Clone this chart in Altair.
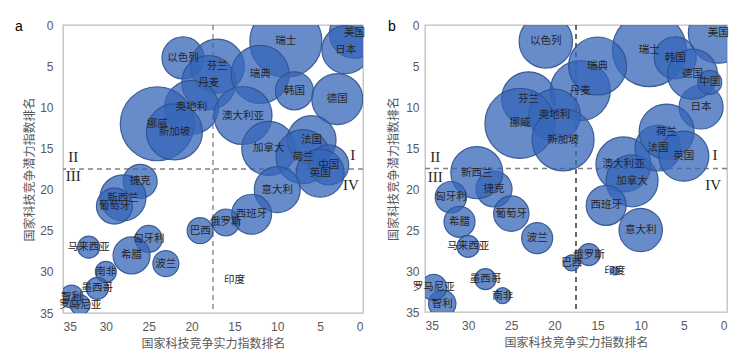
import altair as alt
import pandas as pd

countries = ["瑞士", "美国", "日本", "以色列", "芬兰", "丹麦", "瑞典", "韩国", "德国", "奥地利",
             "澳大利亚", "挪威", "新加坡", "加拿大", "法国", "荷兰", "中国", "英国", "意大利", "西班牙",
             "俄罗斯", "巴西", "印度", "捷克", "新西兰", "葡萄牙", "匈牙利", "希腊", "波兰", "马来西亚",
             "南非", "墨西哥", "智利", "罗马尼亚"]

# panel a
a_strength = [9, 1, 2, 21, 17, 18, 12, 8, 3, 20, 14, 24, 22, 11, 6, 7, 4, 5, 10, 13,
              16, 19, 15, 26, 28, 29, 25, 27, 23, 32, 30, 31, 34, 33]
a_potential = [2, 1, 3, 4, 5, 7, 6, 8, 9, 10, 11, 12, 13, 15, 14, 16, 17, 18, 20, 23,
               24, 25, 31, 19, 21, 22, 26, 28, 29, 27, 30, 32, 33, 34]
a_bubble = [1296, 625, 576, 441, 729, 729, 841, 361, 650, 729, 841, 1369, 784, 729, 600, 729, 400, 576, 529, 400,
            182, 169, 0, 289, 529, 324, 182, 342, 169, 121, 110, 121, 132, 100]

# panel b
b_strength = [9, 1, 3, 21, 23, 17, 15, 6, 4, 20, 12, 24, 19, 11, 8, 7, 2, 5, 10, 14,
              16, 18, 13, 27, 29, 25, 32, 31, 22, 30, 26, 28, 33, 34]
b_potential = [3, 1, 10, 2, 9, 8, 5, 4, 6, 11, 17, 12, 14, 19, 15, 13, 7, 16, 25, 22,
               28, 29, 30, 20, 18, 23, 21, 24, 26, 27, 33, 31, 34, 32]
b_bubble = [1369, 900, 484, 713, 729, 900, 841, 441, 625, 676, 756, 1225, 961, 676, 529, 756, 144, 625, 471, 400,
            121, 64, 16, 324, 676, 313, 246, 240, 240, 121, 64, 110, 188, 169]

quadrants = ["I", "II", "III", "IV"]
a_quad_x = [1.2, 33.8, 33.8, 1.4]
a_quad_y = [15.8, 16.0, 18.3, 19.5]
b_quad_x = [1.4, 33.8, 33.8, 1.6]
b_quad_y = [15.9, 16.1, 18.5, 19.5]

divider = 17.5

X_TITLE = "国家科技竞争实力指数排名"
Y_TITLE = "国家科技竞争潜力指数排名"
CJK = "Noto Sans CJK SC"
GREY = "#595959"


def xenc(field="实力"):
    return alt.X(f"{field}:Q",
                 scale=alt.Scale(domain=[0, 35], reverse=True, nice=False),
                 axis=alt.Axis(values=list(range(0, 36, 5)), grid=False, ticks=False, domain=False,
                               title=X_TITLE, titleFont=CJK, titleFontSize=12, titleFontWeight="normal",
                               titleColor=GREY, titlePadding=6, labelFont="Liberation Sans",
                               labelFontSize=12, labelColor=GREY, labelPadding=8))


def yenc(lpad, tpad, field="潜力"):
    return alt.Y(f"{field}:Q",
                 scale=alt.Scale(domain=[0, 35], reverse=True, nice=False),
                 axis=alt.Axis(values=list(range(0, 36, 5)), grid=False, ticks=False, domain=False,
                               title=Y_TITLE, titleFont=CJK, titleFontSize=12, titleFontWeight="normal",
                               titleColor=GREY, titlePadding=tpad, labelFont="Liberation Sans",
                               labelFontSize=12, labelColor=GREY, labelPadding=lpad))


def panel(xs, ys, ss, qx, qy, letter, letter_dx, vcolor, lpad, tpad, w, h):
    df = pd.DataFrame({"国家": countries, "实力": xs, "潜力": ys, "规模": ss})
    qdf = pd.DataFrame({"标签": quadrants, "实力": qx, "潜力": qy})
    vdf = pd.DataFrame({"实力": [divider]})
    hdf = pd.DataFrame({"潜力": [divider]})
    ldf = pd.DataFrame({"t": [letter]})
    ye = yenc(lpad, tpad)

    bubbles = alt.Chart(df).mark_circle(
        clip=True, fill="#3565B8", fillOpacity=0.75, stroke="#2F528F", strokeWidth=1.2, strokeOpacity=0.9
    ).encode(
        x=xenc(), y=ye,
        size=alt.Size("规模:Q", scale=alt.Scale(domain=[0, 1400], range=[0, 5600]), legend=None),
    )
    labels = alt.Chart(df).mark_text(
        font=CJK, fontSize=10.5, color="#262626", align="center", baseline="middle"
    ).encode(x=xenc(), y=ye, text="国家:N")
    vline = alt.Chart(vdf).mark_rule(strokeDash=[5, 4], color=vcolor, strokeWidth=1.3).encode(x=xenc())
    hline = alt.Chart(hdf).mark_rule(strokeDash=[5, 4], color="#808080", strokeWidth=1.3).encode(y=ye)
    quad = alt.Chart(qdf).mark_text(
        font="Liberation Serif", fontSize=15, color="#262626", align="center", baseline="middle"
    ).encode(x=xenc(), y=ye, text="标签:N")
    let = alt.Chart(ldf).mark_text(
        font="Liberation Sans", fontSize=14, color="#000000", align="center", baseline="middle"
    ).encode(x=alt.value(letter_dx), y=alt.value(2), text="t:N")
    return alt.layer(vline, hline, bubbles, labels, quad, let).properties(width=w, height=h)


pa = panel(a_strength, a_potential, a_bubble, a_quad_x, a_quad_y, "a", -44, "#808080", 10, 3, 300, 288)
pb = panel(b_strength, b_potential, b_bubble, b_quad_x, b_quad_y, "b", -33, "#1a1a1a", 6, 5, 302, 287)

chart = alt.hconcat(pa, pb, spacing=21).configure_view(
    stroke="#BFBFBF", strokeWidth=1.3
).properties(padding={"left": 6, "top": 10, "right": 5, "bottom": 5})

chart.save("out.html", embed_options={"renderer": "svg", "actions": False})
